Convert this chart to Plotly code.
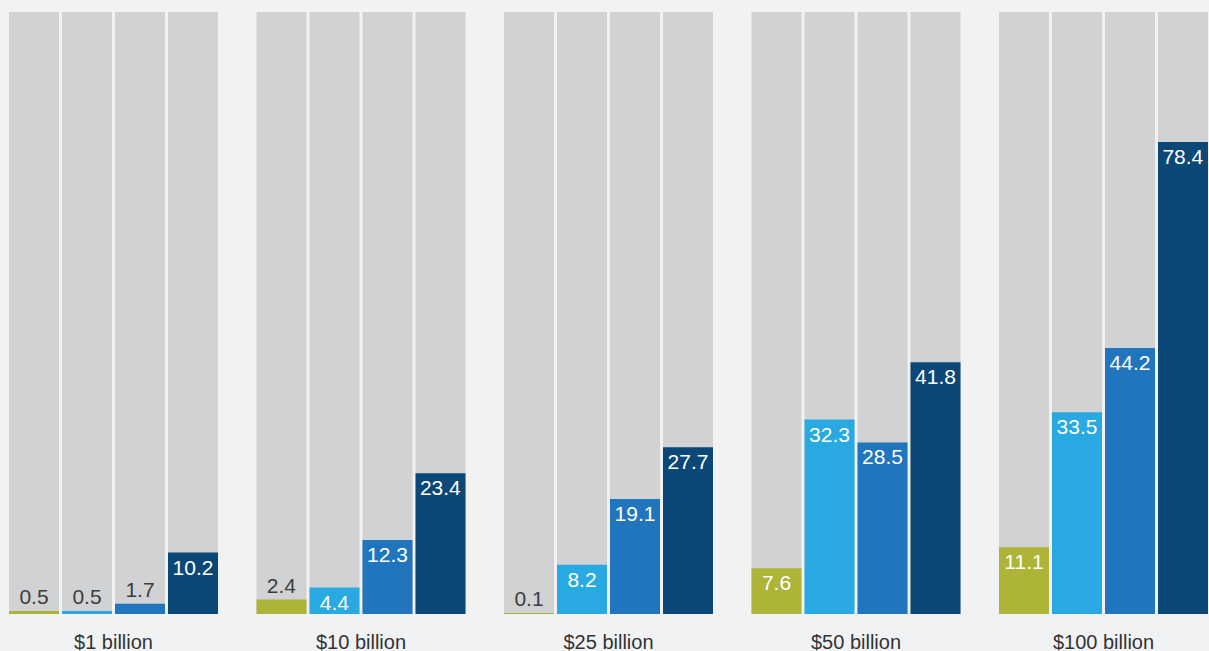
import plotly.graph_objects as go

# Deal sizes (groups) and the four series shown for each
categories = ["$1 billion", "$10 billion", "$25 billion", "$50 billion", "$100 billion"]
series_a = [0.5, 2.4, 0.1, 7.6, 11.1]
series_b = [0.5, 4.4, 8.2, 32.3, 33.5]
series_c = [1.7, 12.3, 19.1, 28.5, 44.2]
series_d = [10.2, 23.4, 27.7, 41.8, 78.4]
full_scale = 100

series = [series_a, series_b, series_c, series_d]
colors = ["#adb437", "#28a9e1", "#2175bc", "#0b4777"]
track_color = "#d1d2d4"
bg = "#f1f2f4"

x = list(range(len(categories)))
px_per_unit = 247.5            # pixel distance between group centres
bar_w = 50 / px_per_unit
step = 53 / px_per_unit
first_off = -104.5 / px_per_unit
label_size = 21

fig = go.Figure()
for k, (vals, col) in enumerate(zip(series, colors)):
    off = first_off + k * step
    # grey full-height track behind each bar
    fig.add_trace(go.Bar(
        x=x, y=[full_scale] * len(x), width=bar_w, offset=off,
        marker=dict(color=track_color, line=dict(width=0)),
        hoverinfo="skip", showlegend=False,
    ))
    positions = ["outside" if v < 4 else "inside" for v in vals]
    txtcolors = ["#3c3c3c" if v < 4 else "#ffffff" for v in vals]
    fig.add_trace(go.Bar(
        x=x, y=vals, width=bar_w, offset=off,
        marker=dict(color=col, line=dict(width=0)),
        text=[f"{v:.1f}" for v in vals],
        textposition=positions,
        insidetextanchor="end",
        textfont=dict(size=label_size, color=txtcolors,
                      family="Liberation Sans, Arial, sans-serif"),
        cliponaxis=False,
        showlegend=False,
    ))

x0 = -113.5 / px_per_unit
fig.update_layout(
    width=1209, height=651,
    margin=dict(l=0, r=0, t=12, b=37),
    paper_bgcolor=bg, plot_bgcolor=bg,
    barmode="overlay",
    uniformtext=dict(minsize=label_size, mode="show"),
    font=dict(family="Liberation Sans, Arial, sans-serif", color="#333333"),
    xaxis=dict(
        range=[x0, x0 + 1209 / px_per_unit],
        tickvals=x, ticktext=categories,
        tickfont=dict(size=20, color="#333333"),
        showgrid=False, zeroline=False, showline=False,
        ticks="", ticklabelstandoff=14, automargin=False,
    ),
    yaxis=dict(range=[0, full_scale], visible=False, automargin=False),
)

fig.write_html("out.html")
